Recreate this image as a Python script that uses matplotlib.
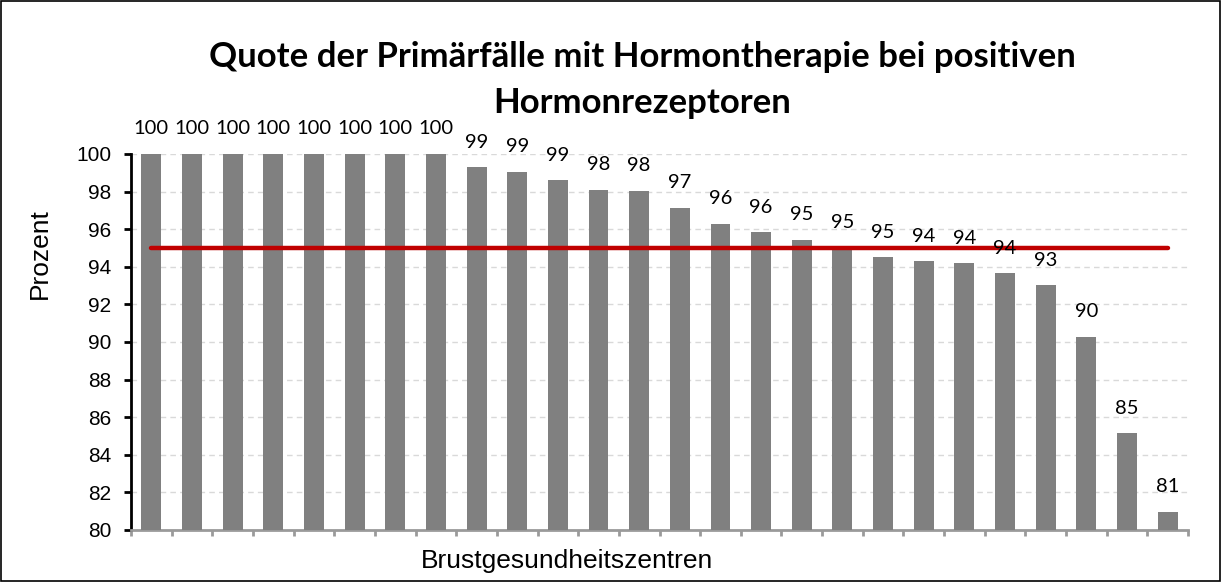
import matplotlib
matplotlib.use("Agg")
import matplotlib.pyplot as plt
import numpy as np

values = [100, 100, 100, 100, 100, 100, 100, 100, 99.3, 99.05, 98.6, 98.1, 98.05,
          97.15, 96.3, 95.85, 95.45, 95.05, 94.5, 94.3, 94.2, 93.67, 93.03, 90.28,
          85.14, 80.97]
labels = ["100", "100", "100", "100", "100", "100", "100", "100", "99", "99", "99",
          "98", "98", "97", "96", "96", "95", "95", "95", "94", "94", "94", "93",
          "90", "85", "81"]
target = 95
yticks = list(range(80, 101, 2))
title = "Quote der Primärfälle mit Hormontherapie bei positiven\nHormonrezeptoren"
ylabel = "Prozent"
xlabel = "Brustgesundheitszentren"

fig = plt.figure(figsize=(12.21, 5.82), dpi=100)
ax = fig.add_axes([131/1221, 1-530/582, (1188-131)/1221, (530-154)/582])

x = np.arange(len(values))
ax.bar(x, [v - 80 for v in values], bottom=80, width=0.49, color="#808080", zorder=3)
ax.plot([x[0], x[-1]], [target, target], color="#C00000", lw=3.2, zorder=4,
        solid_capstyle="round")

for xi, v, lab in zip(x, values, labels):
    ax.annotate(lab, (xi, v), xytext=(0, 18), textcoords="offset points",
                ha="center", va="center", fontsize=14.5, family="Lato", color="black",
                zorder=5)

ax.set_xlim(-0.5, len(values) - 0.5)
ax.set_ylim(80, 100)
ax.set_yticks(yticks)
ax.set_yticklabels([str(t) for t in yticks], fontsize=15, family="Liberation Sans")
ax.set_xticks(np.arange(len(values) + 1) - 0.5)
ax.set_xticklabels([])
ax.tick_params(axis="x", direction="out", length=4, width=2, color="#9a9a9a")
ax.tick_params(axis="y", direction="out", length=5, width=2, color="black", pad=9)
ax.yaxis.grid(True, linestyle=(0, (4, 3)), color="#d9d9d9", lw=1, zorder=0)
for s in ["top", "right"]:
    ax.spines[s].set_visible(False)
ax.spines["left"].set_linewidth(2)
ax.spines["left"].set_color("black")
ax.spines["bottom"].set_linewidth(2)
ax.spines["bottom"].set_color("#9a9a9a")

fig.text(40/1221, 1-254/582, ylabel, ha="center", va="center", rotation=90,
         fontsize=19, family="Liberation Sans")
fig.text(567/1221, 1-561/582, xlabel, ha="center", va="center", fontsize=19,
         family="Liberation Sans")
fig.text(642/1221, 1-80/582, title, ha="center", va="center", fontsize=25,
         family="Lato", weight="bold", linespacing=1.55)

border = plt.Rectangle((0.001, 0.001), 0.998, 0.997, transform=fig.transFigure,
                       fill=False, edgecolor="black", lw=1.2)
fig.patches.append(border)

fig.savefig("out.png", dpi=100)
